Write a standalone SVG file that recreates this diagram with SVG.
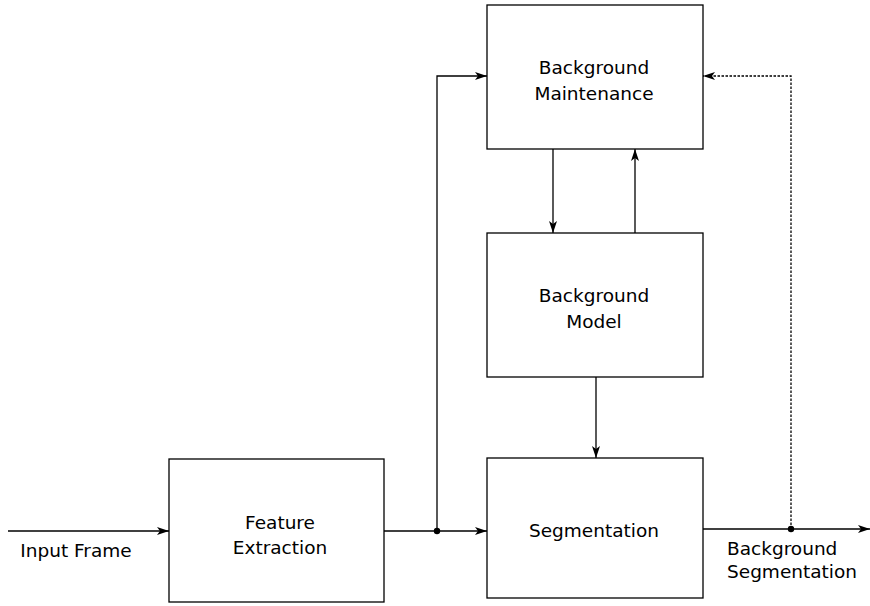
<svg xmlns="http://www.w3.org/2000/svg" width="870" height="606" viewBox="0 0 870 606">
<style>
.box{fill:#fff;stroke:#000;stroke-width:1.3}
.ln{fill:none;stroke:#000;stroke-width:1.3}
.dot{stroke-dasharray:2.5,1.5}
text{font-family:"DejaVu Sans",sans-serif;font-size:18.5px;fill:#000;text-anchor:middle}
</style>
<defs>
<marker id="ah" viewBox="0 0 12 8" refX="12" refY="4" markerWidth="12" markerHeight="8" markerUnits="userSpaceOnUse" orient="auto">
<path d="M0,0 L12,4 L0,8 L3,4 Z" fill="#000"/>
</marker>
</defs>
<g id="connectors">
<line class="ln" x1="8" y1="531" x2="169" y2="531" marker-end="url(#ah)"/>
<line class="ln" x1="384" y1="531" x2="487" y2="531" marker-end="url(#ah)"/>
<polyline class="ln" points="437,531 437,76 487,76" marker-end="url(#ah)"/>
<line class="ln" x1="703" y1="529" x2="870" y2="529" marker-end="url(#ah)"/>
<polyline class="ln dot" points="791,529 791,76 703,76" marker-end="url(#ah)"/>
<line class="ln" x1="553" y1="149" x2="553" y2="233" marker-end="url(#ah)"/>
<line class="ln" x1="635" y1="233" x2="635" y2="149" marker-end="url(#ah)"/>
<line class="ln" x1="596" y1="377" x2="596" y2="458" marker-end="url(#ah)"/>
<circle cx="437" cy="531" r="3.2" fill="#000"/>
<circle cx="791" cy="529" r="3.2" fill="#000"/>
</g>
<g id="maintenance">
<rect class="box" x="487" y="5" width="216" height="144"/>
<text x="594" y="74">Background</text>
<text x="594" y="100">Maintenance</text>
</g>
<g id="model">
<rect class="box" x="487" y="233" width="216" height="144"/>
<text x="594" y="302">Background</text>
<text x="594" y="328">Model</text>
</g>
<g id="segmentation">
<rect class="box" x="487" y="458" width="216" height="140"/>
<text x="594" y="537">Segmentation</text>
</g>
<g id="feature">
<rect class="box" x="169" y="459" width="215" height="143"/>
<text x="280" y="529">Feature</text>
<text x="280" y="554">Extraction</text>
</g>
<g id="labels">
<text x="76" y="557">Input Frame</text>
<text x="727" y="555" style="text-anchor:start">Background</text>
<text x="727" y="578" style="text-anchor:start">Segmentation</text>
</g>
</svg>
